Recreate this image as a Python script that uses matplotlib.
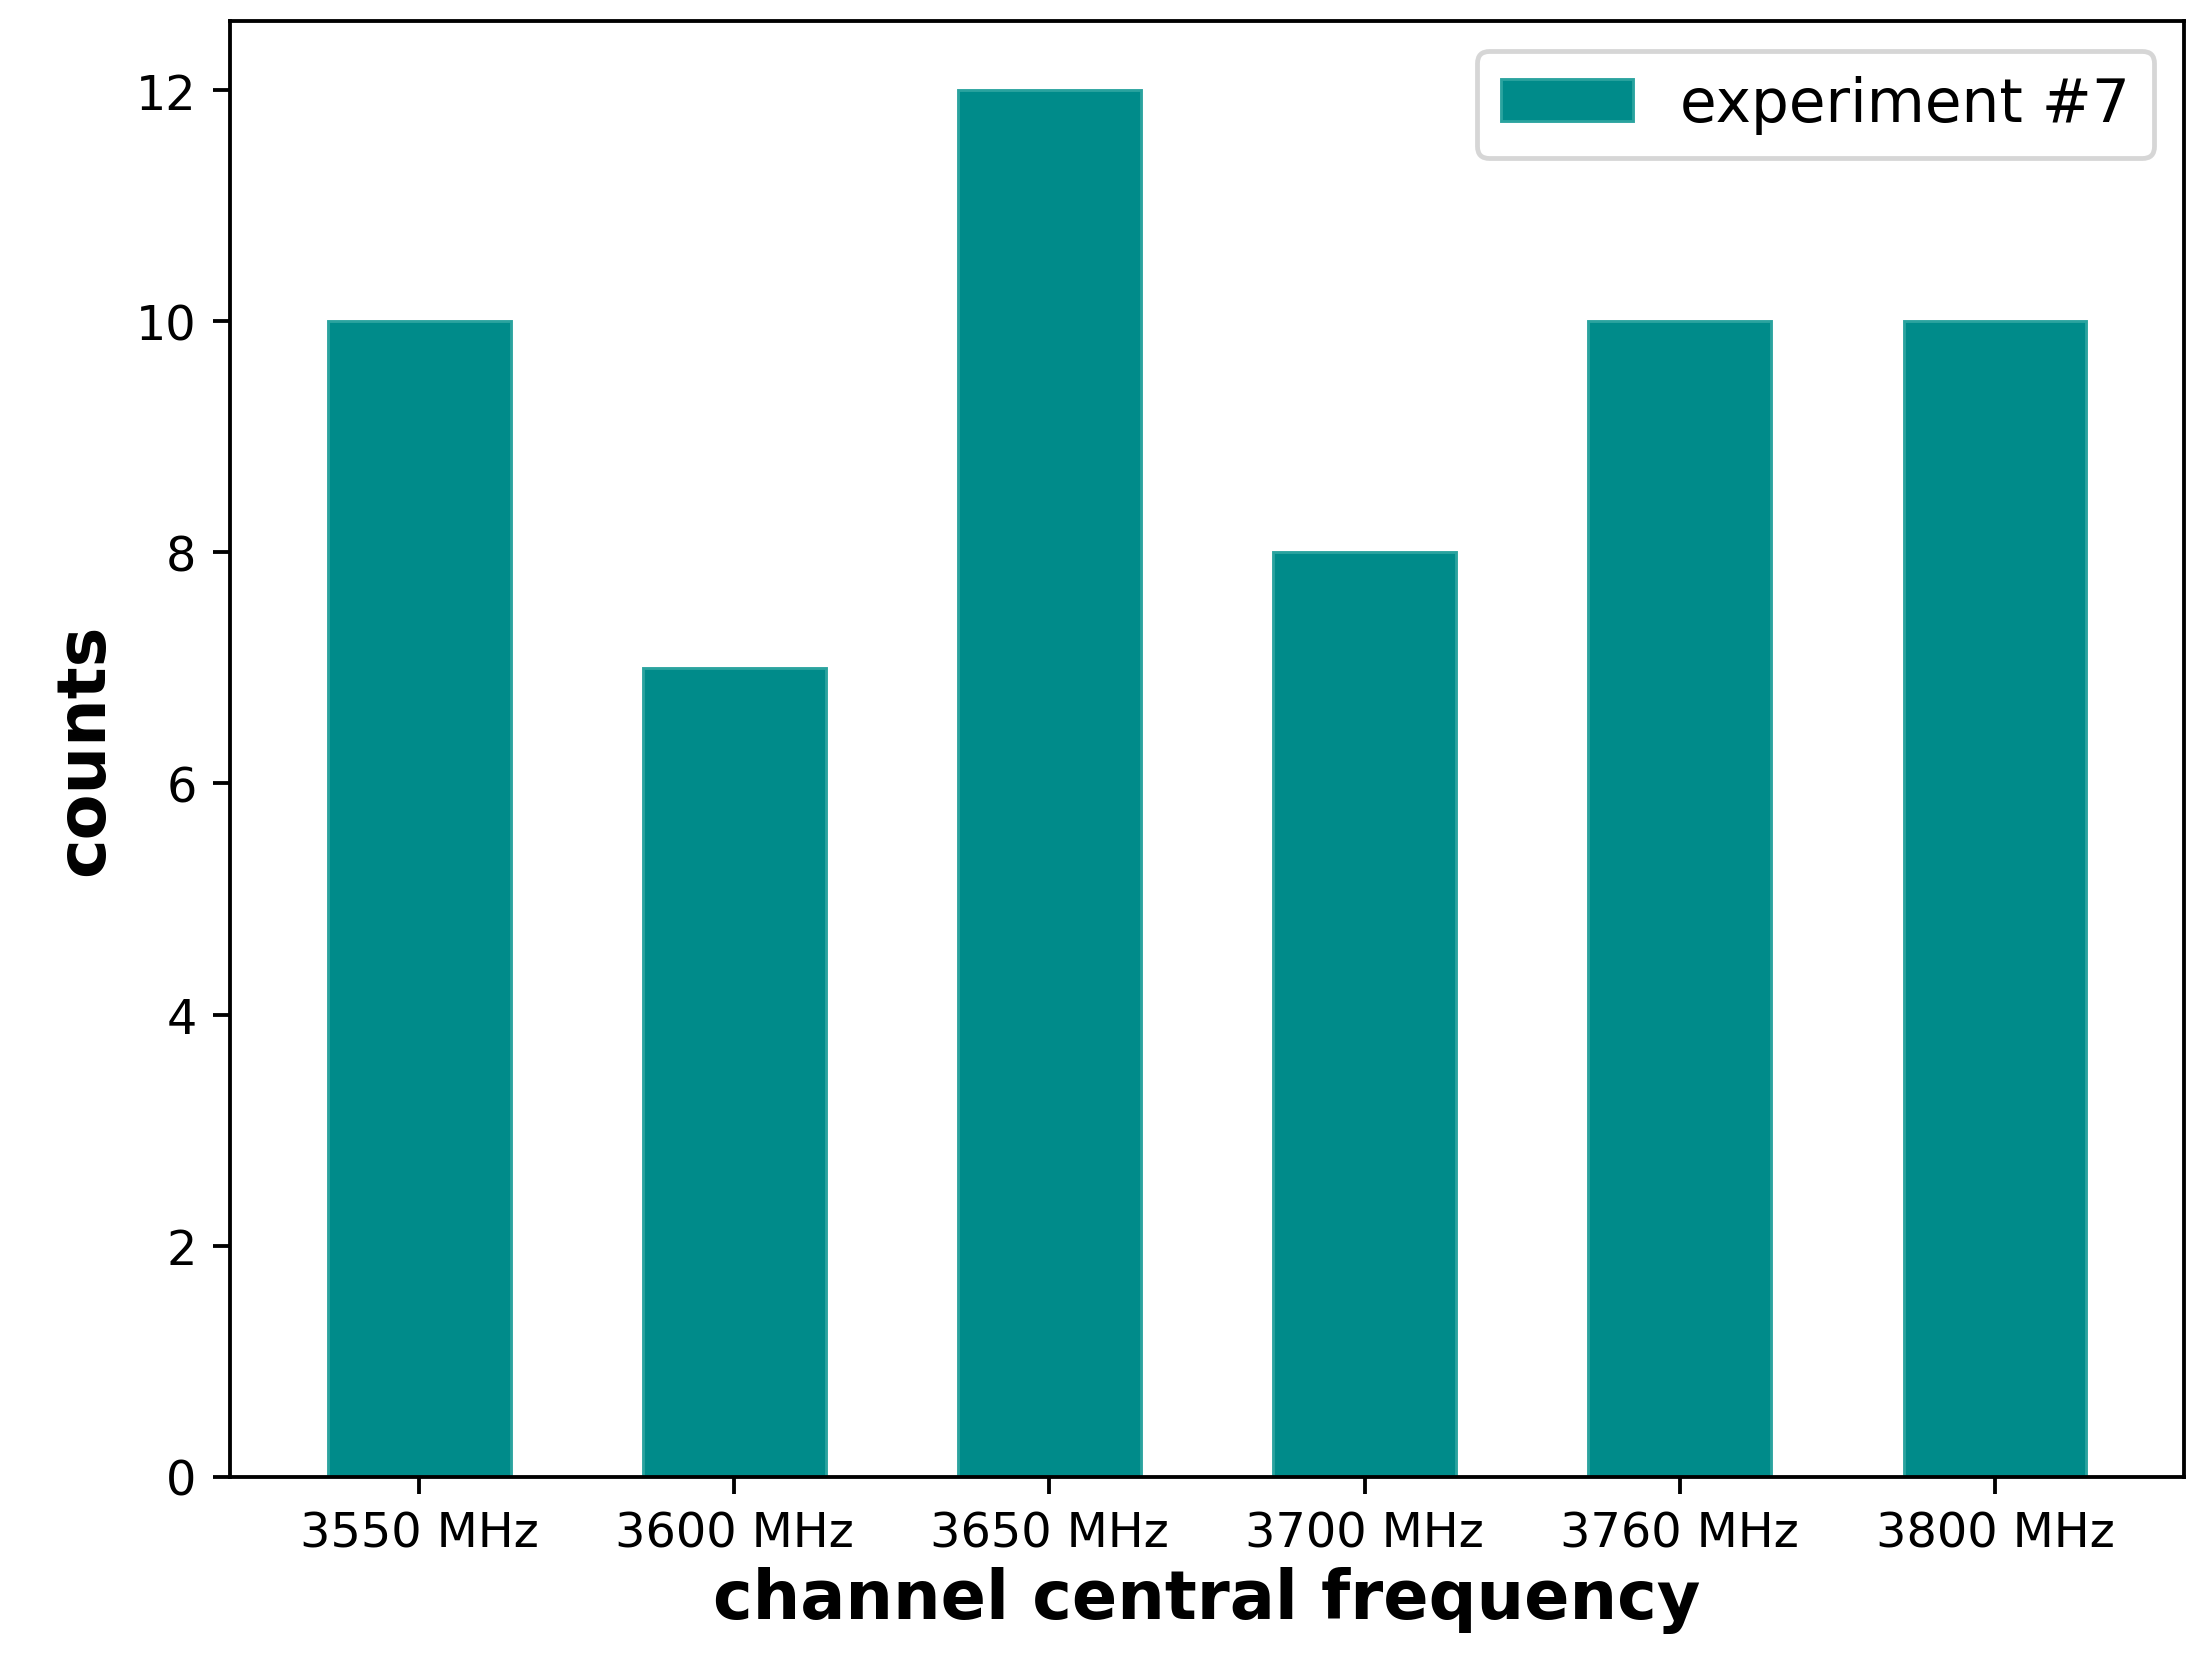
import matplotlib
matplotlib.use("Agg")
import matplotlib.pyplot as plt

categories = ["3550 MHz", "3600 MHz", "3650 MHz", "3700 MHz", "3760 MHz", "3800 MHz"]
counts = [10, 7, 12, 8, 10, 10]
series_label = "experiment #7"

fig = plt.figure(figsize=(6.4, 4.88), dpi=344)
ax = fig.add_axes([0.1045, 0.12, 0.8875, 0.867])
x = range(len(categories))
ax.bar(x, counts, width=0.58, color="#008B8A", edgecolor="#2aa39f", linewidth=0.6, label=series_label)
ax.set_xticks(list(x))
ax.set_xticklabels(categories, fontsize=10)
ax.tick_params(axis="y", labelsize=10)
ax.set_ylim(0, 12.6)
ax.set_xlim(-0.6, 5.6)
ax.set_xlabel("channel central frequency", fontsize=14, fontweight="bold", labelpad=2)
ax.set_ylabel("counts", fontsize=14, fontweight="bold")
ax.legend(loc="upper right", fontsize=12.5, handlelength=2.2)
fig.savefig("out.png", dpi=344)
